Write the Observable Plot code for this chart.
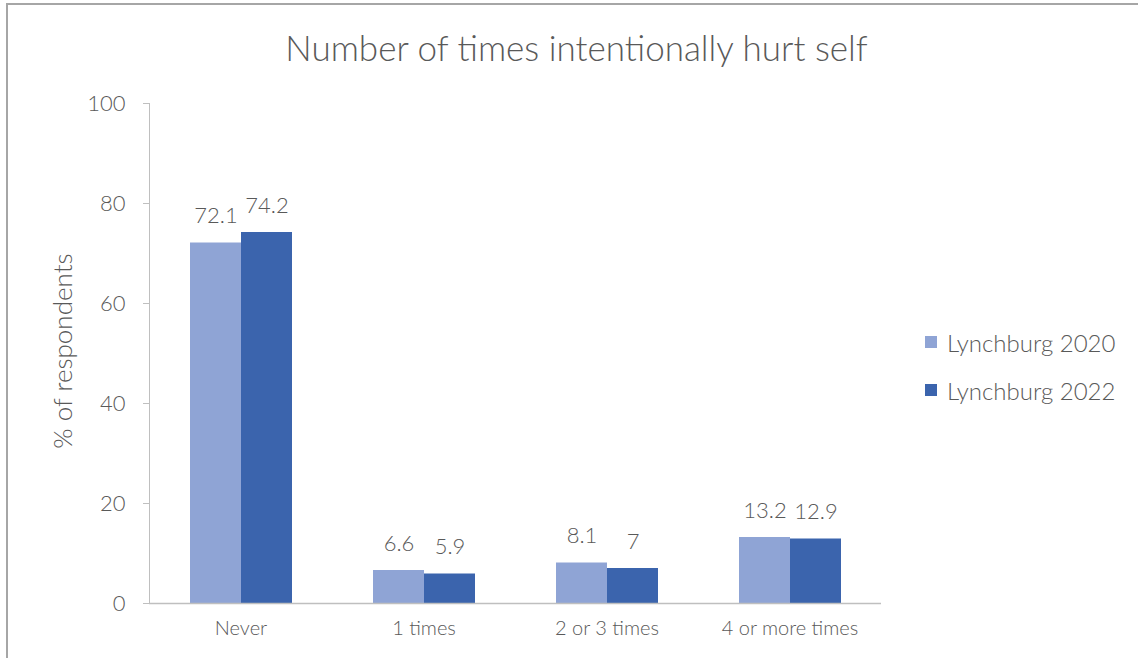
<!DOCTYPE html>
<html>
<head>
<meta charset="utf-8">
<script src="https://cdn.jsdelivr.net/npm/d3@7"></script>
<script src="https://cdn.jsdelivr.net/npm/@observablehq/plot@0.6"></script>
<style>
  html, body { margin: 0; padding: 0; background: #fff; overflow: hidden; }
  #wrap { position: relative; width: 1138px; height: 658px; font-family: Lato, "Open Sans", sans-serif; color: #595959; }
  #border { position: absolute; left: 6px; top: 3px; width: 1140px; height: 660px; border-top: 2px solid #a6a6a6; border-left: 2px solid #a6a6a6; }
  #title { position: absolute; left: 0; width: 1153px; top: 26px; text-align: center; font-size: 35px; font-weight: 300; }
  #ylabel { position: absolute; left: 62px; top: 351px; transform: translate(-50%, -50%) rotate(-90deg); font-size: 26px; white-space: nowrap; font-weight: 300; }
  #legend { position: absolute; left: 925px; top: 327px; font-size: 24px; font-weight: 300; }
  .item { display: flex; align-items: center; height: 30px; margin-bottom: 18px; }
  .sw { width: 12px; height: 12px; margin-right: 10px; }
  #chart { position: absolute; left: 0; top: 0; }
</style>
</head>
<body>
<div id="wrap">
  <div id="chart"></div>
  <div id="border"></div>
  <div id="title"></div>
  <div id="ylabel"></div>
  <div id="legend"></div>
</div>
<script>
const titleText = "Number of times intentionally hurt self";
const yLabel = "% of respondents";
const categories = ["Never", "1 times", "2 or 3 times", "4 or more times"];
const series = ["Lynchburg 2020", "Lynchburg 2022"];
const values2020 = [72.1, 6.6, 8.1, 13.2];
const values2022 = [74.2, 5.9, 7, 12.9];
const colors = ["#8FA4D5", "#3B64AD"];
const yTicks = [0, 20, 40, 60, 80, 100];

const data = categories.flatMap((c, i) => [
  {category: c, series: series[0], value: values2020[i]},
  {category: c, series: series[1], value: values2022[i]}
]);

document.getElementById("title").textContent = titleText;
document.getElementById("ylabel").textContent = yLabel;
const legend = document.getElementById("legend");
series.forEach((s, i) => {
  const it = document.createElement("div");
  it.className = "item";
  const sw = document.createElement("div");
  sw.className = "sw";
  sw.style.background = colors[i];
  const tx = document.createElement("span");
  tx.textContent = s;
  it.appendChild(sw); it.appendChild(tx);
  legend.appendChild(it);
});

const chart = Plot.plot({
  width: 1138,
  height: 655,
  marginTop: 103,
  marginBottom: 52,
  marginLeft: 148,
  marginRight: 257,
  style: {fontFamily: "Lato, 'Open Sans', sans-serif", fontWeight: 300, color: "#595959", background: "transparent"},
  fx: {domain: categories, padding: 0, label: null},
  x: {domain: series, paddingInner: 0, paddingOuter: 0.762, axis: null},
  y: {domain: [0, 100], axis: null},
  color: {domain: series, range: colors},
  marks: [
    Plot.frame({anchor: "left", stroke: "#bfbfbf", facetAnchor: "left"}),
    Plot.axisY({ticks: yTicks, tickSize: 6, tickFormat: () => "", stroke: "#bfbfbf", label: null}),
    Plot.axisY({ticks: yTicks, tickSize: 0, tickPadding: 24, fontSize: 22, fill: "#595959", label: null}),
    Plot.barY(data, {fx: "category", x: "series", y: "value", fill: "series"}),
    Plot.ruleY([0], {stroke: "#bfbfbf", strokeWidth: 1.5}),
    Plot.text(data, {fx: "category", x: "series", y: "value", text: d => String(d.value), dy: -27, fontSize: 22, fill: "#595959"}),
    Plot.axisFx({anchor: "bottom", tickSize: 0, tickPadding: 17, fontSize: 20, fill: "#595959", label: null})
  ]
});
document.getElementById("chart").appendChild(chart);
</script>
</body>
</html>
